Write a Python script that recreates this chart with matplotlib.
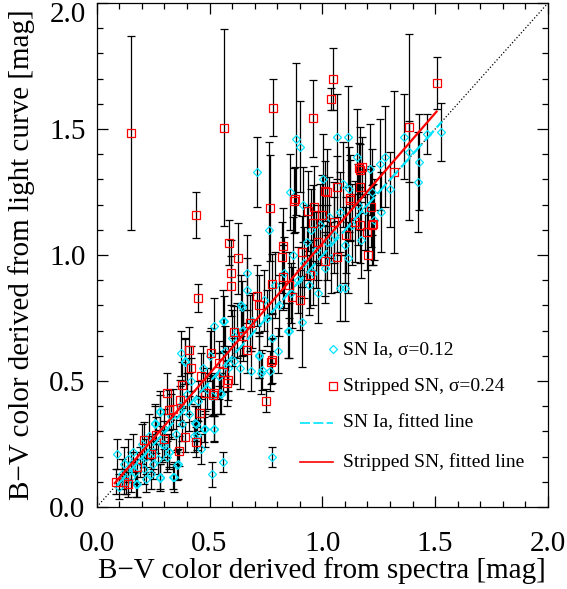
import numpy as np
import matplotlib
matplotlib.use("Agg")
import matplotlib.pyplot as plt
from matplotlib.ticker import MultipleLocator, FuncFormatter

plt.rcParams["font.family"] = ["Liberation Serif", "DejaVu Serif"]

# ---------------------------------------------------------------------------
# SN Ia: B-V from spectra (x), from light curve (y), y error
# ---------------------------------------------------------------------------
ia_x = [0.09, 0.10, 0.11, 0.12, 0.13, 0.14, 0.15, 0.16, 0.17, 0.18,
        0.19, 0.20, 0.21, 0.22, 0.23, 0.24, 0.25, 0.26, 0.27, 0.28,
        0.28, 0.29, 0.30, 0.31, 0.32, 0.33, 0.34, 0.35, 0.36, 0.37,
        0.38, 0.39, 0.40, 0.41, 0.42, 0.43, 0.44, 0.45, 0.46, 0.47,
        0.48, 0.49, 0.50, 0.51, 0.51, 0.52, 0.52, 0.54, 0.55, 0.56,
        0.56, 0.57, 0.58, 0.60, 0.61, 0.62, 0.64, 0.635, 0.645, 0.665,
        0.667, 0.684, 0.69, 0.71, 0.72, 0.73, 0.74, 0.756, 0.765, 0.768,
        0.775, 0.778, 0.79, 0.805, 0.81, 0.83, 0.846, 0.856, 0.86, 0.87,
        0.883, 0.89, 0.902, 0.908, 0.913, 0.92, 0.93, 0.94, 0.95, 0.96,
        0.97, 0.98, 0.99, 1.001, 1.01, 1.02, 1.03, 1.04, 1.05, 1.065,
        1.078, 1.08, 1.09, 1.10, 1.10, 1.115, 1.115, 1.119, 1.13, 1.152,
        1.16, 1.17, 1.19, 1.211, 1.22, 1.23, 1.255, 1.258, 1.277, 1.30,
        1.362, 1.385, 1.425, 1.43, 1.465, 1.524, 0.279, 0.282, 0.356, 0.341,
        0.176, 0.437, 0.444, 0.297, 0.319, 0.260, 0.477, 0.518, 0.372, 0.642,
        0.647, 0.720, 0.731, 0.546, 0.391, 0.852, 0.564, 0.15, 0.22, 0.25]
ia_y = [0.21, 0.08, 0.13, 0.17, 0.10, 0.19, 0.12, 0.22, 0.14, 0.09,
        0.18, 0.25, 0.15, 0.20, 0.28, 0.13, 0.22, 0.33, 0.19, 0.12,
        0.38, 0.25, 0.31, 0.20, 0.22, 0.36, 0.12, 0.29, 0.17, 0.40,
        0.33, 0.58, 0.45, 0.37, 0.50, 0.28, 0.33, 0.42, 0.23, 0.55,
        0.31, 0.47, 0.60, 0.44, 0.13, 0.31, 0.72, 0.52, 0.45, 0.74,
        0.18, 0.62, 0.55, 0.67, 0.58, 0.70, 0.80, 0.55, 0.70, 0.86,
        0.93, 0.54, 0.74, 1.33, 0.60, 0.53, 0.82, 0.75, 1.10, 0.54,
        0.67, 0.20, 0.88, 0.62, 0.80, 0.93, 0.70, 1.25, 0.85, 1.00,
        1.46, 0.90, 1.43, 0.735, 1.20, 0.97, 1.05, 0.88, 1.10, 0.93,
        1.02, 0.85, 1.12, 1.30, 0.95, 1.05, 1.15, 0.99, 1.08, 1.47,
        0.87, 1.17, 1.28, 0.87, 1.04, 1.47, 0.99, 1.26, 1.12, 1.39,
        1.20, 1.06, 1.18, 1.34, 1.25, 1.14, 1.36, 1.17, 1.39, 1.26,
        1.47, 1.41, 1.29, 1.37, 1.48, 1.49, 0.116, 0.376, 0.167, 0.120,
        0.090, 0.332, 0.286, 0.246, 0.219, 0.332, 0.308, 0.310, 0.610, 0.795,
        0.702, 0.603, 0.544, 0.451, 0.577, 0.700, 0.738, 0.16, 0.11, 0.17]
ia_err = [0.06, 0.05, 0.06, 0.07, 0.05, 0.08, 0.06, 0.07, 0.05, 0.05,
          0.06, 0.08, 0.06, 0.07, 0.09, 0.06, 0.07, 0.08, 0.06, 0.05,
          0.08, 0.07, 0.08, 0.06, 0.07, 0.09, 0.05, 0.07, 0.06, 0.08,
          0.07, 0.09, 0.08, 0.07, 0.09, 0.06, 0.07, 0.08, 0.06, 0.09,
          0.07, 0.08, 0.10, 0.08, 0.05, 0.05, 0.11, 0.09, 0.08, 0.12,
          0.04, 0.10, 0.09, 0.11, 0.09, 0.11, 0.12, 0.08, 0.10, 0.13,
          0.15, 0.08, 0.11, 0.14, 0.09, 0.08, 0.12, 0.11, 0.35, 0.08,
          0.10, 0.04, 0.13, 0.09, 0.12, 0.14, 0.11, 0.15, 0.12, 0.15,
          0.30, 0.13, 0.18, 0.18, 0.15, 0.14, 0.15, 0.12, 0.16, 0.13,
          0.15, 0.12, 0.16, 0.18, 0.14, 0.15, 0.16, 0.14, 0.15, 0.17,
          0.13, 0.16, 0.17, 0.13, 0.15, 0.20, 0.14, 0.17, 0.16, 0.19,
          0.16, 0.15, 0.16, 0.18, 0.17, 0.16, 0.18, 0.16, 0.20, 0.15,
          0.17, 0.12, 0.20, 0.19, 0.08, 0.115, 0.053, 0.07, 0.06, 0.06,
          0.05, 0.07, 0.06, 0.06, 0.06, 0.07, 0.05, 0.052, 0.09, 0.10,
          0.10, 0.09, 0.08, 0.08, 0.09, 0.11, 0.10, 0.06, 0.05, 0.06]

# ---------------------------------------------------------------------------
# Stripped SN
# ---------------------------------------------------------------------------
sn_x = [0.152, 0.564, 0.781, 0.960, 1.046, 1.038, 1.506, 1.382, 1.319, 1.163,
        1.174, 1.012, 1.063, 0.879, 0.440, 0.447, 0.766, 0.585, 0.625, 0.594,
        0.597, 0.712, 0.826, 0.823, 0.873, 0.775, 0.407, 0.505, 0.775, 0.901,
        0.867, 0.938, 0.963, 0.997, 0.957, 0.908, 0.945, 1.012, 0.827, 0.610,
        0.665, 0.543, 0.583, 0.561, 0.749, 0.517, 0.772, 1.063, 1.105, 1.204,
        1.226, 1.196, 1.122, 1.167, 1.144, 1.167, 1.221, 1.214, 1.122, 1.167,
        1.019, 0.441, 0.363, 0.393, 0.208, 0.087, 0.12, 0.14, 0.311, 0.378,
        0.370, 0.459, 0.481, 0.518, 0.577, 0.264, 0.322, 0.30, 0.42, 0.46,
        0.68, 0.72, 0.65, 0.85, 0.98, 1.05, 0.34, 0.18, 0.24]
sn_y = [1.483, 1.505, 1.585, 1.542, 1.698, 1.619, 1.681, 1.507, 1.329, 1.344,
        1.350, 1.254, 1.271, 1.221, 1.159, 0.828, 1.185, 1.049, 0.987, 0.930,
        0.877, 0.839, 1.037, 0.991, 1.216, 0.884, 0.623, 0.612, 0.582, 0.821,
        0.832, 1.175, 1.192, 1.159, 1.126, 1.013, 0.921, 0.977, 0.911, 0.696,
        0.623, 0.570, 0.504, 0.537, 0.422, 0.444, 0.577, 0.993, 1.079, 1.00,
        1.122, 1.092, 1.225, 1.119, 1.132, 1.337, 1.119, 1.192, 1.218, 1.271,
        1.251, 0.258, 0.222, 0.279, 0.266, 0.100, 0.10, 0.09, 0.451, 0.484,
        0.425, 0.372, 0.451, 0.451, 0.491, 0.286, 0.385, 0.27, 0.55, 0.52,
        0.73, 0.80, 0.68, 0.88, 1.05, 1.13, 0.39, 0.16, 0.21]
sn_err = [0.385, 0.39, 0.113, 0.152, 0.124, 0.044, 0.103, 0.37, 0.32, 0.10,
          0.12, 0.12, 0.12, 0.13, 0.093, 0.056, 0.21, 0.09, 0.14, 0.13,
          0.12, 0.12, 0.15, 0.14, 0.13, 0.12, 0.09, 0.10, 0.09, 0.12,
          0.12, 0.16, 0.16, 0.16, 0.15, 0.14, 0.13, 0.14, 0.13, 0.10,
          0.09, 0.09, 0.08, 0.08, 0.045, 0.08, 0.09, 0.14, 0.15, 0.19,
          0.16, 0.15, 0.17, 0.15, 0.16, 0.17, 0.16, 0.16, 0.16, 0.17,
          0.17, 0.06, 0.06, 0.06, 0.07, 0.05, 0.05, 0.05, 0.08, 0.09,
          0.08, 0.07, 0.08, 0.08, 0.09, 0.07, 0.08, 0.07, 0.09, 0.09,
          0.11, 0.12, 0.10, 0.13, 0.15, 0.16, 0.08, 0.06, 0.07]

# fitted lines: (slope, intercept, x start, x end)
ia_fit = (1.003, -0.005, 0.09, 1.53)
sn_fit = (1.034, 0.012, 0.08, 1.506)

legend_labels = ["SN Ia, σ=0.12", "Stripped SN, σ=0.24",
                 "SN Ia, fitted line", "Stripped SN, fitted line"]

CYAN = "#00e5ff"

fig = plt.figure(figsize=(5.67, 5.89), dpi=100)
ax = fig.add_axes([0.1706, 0.1392, 0.7959, 0.8557])

ax.plot([0, 2], [0, 2], color="black", ls=":", lw=0.9)

ax.errorbar(ia_x, ia_y, yerr=ia_err, fmt="none", ecolor="black",
            elinewidth=0.9, capsize=3, capthick=0.9, zorder=2)
ax.errorbar(sn_x, sn_y, yerr=sn_err, fmt="none", ecolor="black",
            elinewidth=0.9, capsize=3, capthick=0.9, zorder=2)
ax.plot(ia_x, ia_y, ls="none", marker="D", ms=4.5, mfc="none",
        mec=CYAN, mew=0.9, zorder=3)
ax.plot(sn_x, sn_y, ls="none", marker="s", ms=6, mfc="none",
        mec="red", mew=0.9, zorder=3)

for (k, b, x0, x1), col, ls in [(ia_fit, CYAN, (0, (6, 2))),
                                (sn_fit, "red", "-")]:
    xx = np.array([x0, x1])
    ax.plot(xx, k * xx + b, color=col, ls=ls, lw=1.6, zorder=4)

# manual legend (IDL style)
tx, mx, lx0 = 0.546, 0.524, 0.45
rows_y = [0.313, 0.240, 0.167, 0.089]
ax.plot([mx], [rows_y[0]], transform=ax.transAxes, marker="D", ms=4.5,
        mfc="none", mec=CYAN, mew=0.9, ls="none")
ax.plot([mx], [rows_y[1]], transform=ax.transAxes, marker="s", ms=6,
        mfc="none", mec="red", mew=0.9, ls="none")
ax.plot([lx0, mx], [rows_y[2]] * 2, transform=ax.transAxes, color=CYAN,
        ls=(0, (6, 2)), lw=1.2)
ax.plot([lx0, mx], [rows_y[3]] * 2, transform=ax.transAxes, color="red", lw=1.2)
for lab, yy in zip(legend_labels, rows_y):
    ax.text(tx, yy, lab, transform=ax.transAxes, fontsize=14, va="center", ha="left")

ax.set_xlim(0, 2)
ax.set_ylim(0, 2)
ax.xaxis.set_major_locator(MultipleLocator(0.5))
ax.yaxis.set_major_locator(MultipleLocator(0.5))
ax.xaxis.set_minor_locator(MultipleLocator(0.1))
ax.yaxis.set_minor_locator(MultipleLocator(0.1))
ax.tick_params(which="both", direction="in", top=True, right=True, labelsize=21)
ax.tick_params(which="major", length=8, width=0.9)
ax.tick_params(which="minor", length=4, width=0.9)
ax.tick_params(axis="x", pad=17)
ax.tick_params(axis="y", pad=8)
ax.xaxis.set_major_formatter(FuncFormatter(lambda v, p: f"{v:.1f}"))
# top y label is nudged down inside the figure, as in the original
ax.yaxis.set_major_formatter(FuncFormatter(lambda v, p: "" if v > 1.99 else f"{v:.1f}"))
ax.annotate("2.0", xy=(0, 2), xycoords="data", xytext=(-8, 1),
            textcoords="offset points", ha="right", va="top", fontsize=21)
for s in ax.spines.values():
    s.set_linewidth(0.9)

ax.set_xlabel("B\u2212V color derived from spectra [mag]", fontsize=21, labelpad=0)
ax.set_ylabel("B\u2212V color derived from light curve [mag]", fontsize=21, labelpad=10)

fig.savefig("out.png", dpi=100)
